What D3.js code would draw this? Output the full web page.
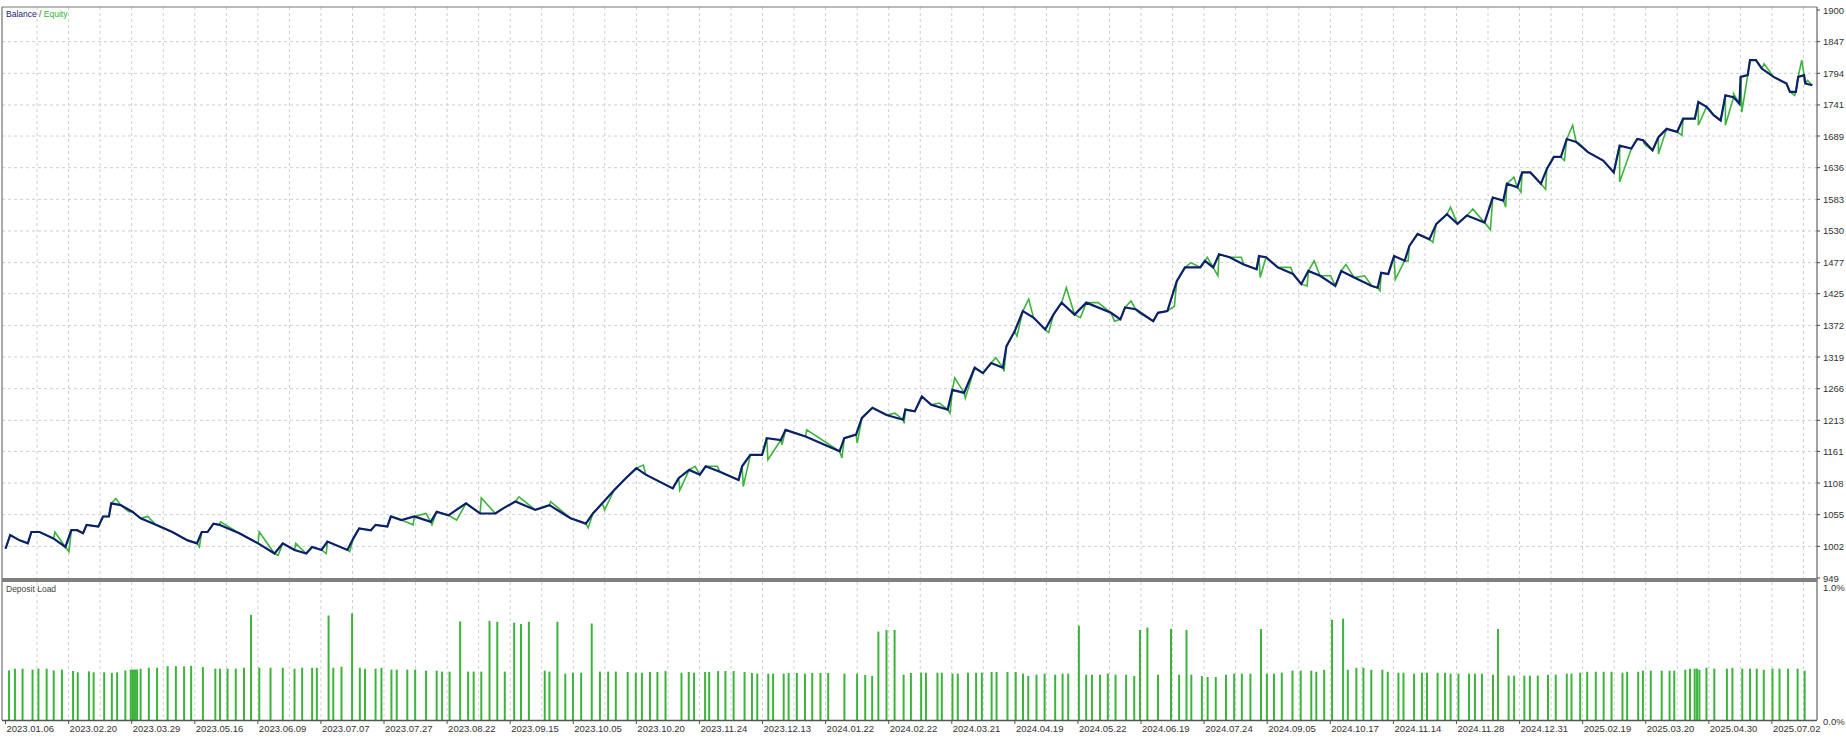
<!DOCTYPE html>
<html><head><meta charset="utf-8">
<script src="https://cdn.jsdelivr.net/npm/d3@7"></script>
<style>body{margin:0;background:#fff}svg{display:block}text{font-family:"Liberation Sans",Arial,sans-serif}</style>
</head><body><svg id="c" width="1846" height="738"></svg>
<script>
// x positions are deal-sequence index units
const yTicks=[1900,1847,1794,1741,1689,1636,1583,1530,1477,1425,1372,1319,1266,1213,1161,1108,1055,1002,949];
const dateLabels=["2023.01.06","2023.02.20","2023.03.29","2023.05.16","2023.06.09","2023.07.07","2023.07.27","2023.08.22","2023.09.15","2023.10.05","2023.10.20","2023.11.24","2023.12.13","2024.01.22","2024.02.22","2024.03.21","2024.04.19","2024.05.22","2024.06.19","2024.07.24","2024.09.05","2024.10.17","2024.11.14","2024.11.28","2024.12.31","2025.02.19","2025.03.20","2025.04.30","2025.07.02"];
const balance=[[3,998],[7,1021],[15,1012],[22,1007],[25,1026],[32,1026],[44,1015],[54,1001],[59,1029],[64,1029],[69,1024],[72,1038],[82,1035],[86,1052],[91,1052],[93,1074],[101,1071],[111,1060],[118,1049],[131,1038],[145,1026],[158,1012],[166,1007],[170,1026],[175,1026],[180,1040],[185,1038],[202,1024],[218,1007],[232,990],[239,1007],[249,996],[259,990],[264,1001],[272,996],[277,1010],[294,996],[299,1015],[304,1032],[314,1029],[318,1038],[328,1035],[331,1052],[340,1046],[351,1052],[365,1043],[370,1060],[380,1054],[395,1074],[407,1057],[420,1057],[427,1066],[437,1077],[454,1063],[466,1071],[484,1049],[497,1040],[503,1057],[511,1074],[521,1096],
[531,1116],[540,1133],[548,1122],[571,1099],[576,1116],[585,1130],[594,1122],[599,1136],[611,1127],[627,1113],[630,1136],[637,1155],[647,1155],[651,1183],[663,1180],[667,1197],[684,1186],[713,1161],[717,1183],[727,1189],[732,1217],[741,1234],[753,1222],[767,1214],[769,1231],[777,1228],[783,1253],[791,1239],[805,1231],[809,1264],[819,1259],[828,1301],[835,1292],[842,1309],[852,1301],[855,1337],[862,1362],[869,1396],[878,1385],[888,1365],[895,1390],[902,1410],[913,1390],[923,1410],[944,1393],[952,1382],[956,1402],[965,1399],[980,1379],[984,1393],[992,1396],[1000,1446],[1007,1469],[1020,1469],[1024,1480],[1031,1469],[1036,1491],[1045,1486],[1057,1474],[1068,1466],[1070,1488],[1076,1486],[1086,1469],[1099,1458],[1106,1441],[1112,1463],[1122,1455],[1135,1438],[1140,1463],[1151,1452],[1166,1438],[1171,1435],[1174,1460],[1180,1458],[1185,1488],[1194,1480],[1198,1505],[1205,1525],[1215,1516],[1221,1542],[1230,1558],[1239,1542],[1247,1556],[1262,1544],[1269,1586],[1278,1581],[1281,1609],[1290,1603],[1294,1628],[1301,1628],[1310,1609],[1315,1634],[1321,1654],[1327,1654],[1332,1684],[1340,1679],[1350,1662],[1363,1648],[1372,1628],[1377,1673],[1387,1668],[1392,1684],[1397,1682],[1405,1665],[1410,1687],[1417,1701],[1426,1696],[1431,1718],[1441,1718],[1444,1746],[1451,1738],[1457,1724],[1463,1715],[1467,1757],[1474,1754],[1479,1743],[1480,1788],[1486,1791],[1488,1816],[1493,1816],[1498,1802],[1508,1788],[1519,1777],[1522,1763],[1527,1763],[1529,1788],[1534,1791],[1535,1777],[1541,1774]];
const equitySpikes=[[45,1026],[57,993],[97,1082],[108,1060],[124,1052],[168,1001],[186,1043],[219,1026],[235,987],[250,1007],[276,990],[296,993],[350,1038],[361,1057],[366,1038],[387,1046],[408,1083],[440,1085],[467,1077],[499,1033],[513,1063],
[546,1138],[577,1096],[590,1136],[609,1136],[631,1102],[652,1147],[664,1172],[685,1197],[715,1150],[728,1175],[760,1225],[768,1208],[798,1242],[807,1225],[811,1284],[820,1250],[846,1318],[853,1295],[864,1354],[874,1416],[891,1360],[906,1435],[918,1385],[933,1410],[947,1379],[961,1413],[968,1393],[998,1404],[1012,1477],[1026,1486],[1035,1455],
[1055,1486],[1071,1452],[1097,1469],[1111,1438],[1117,1480],[1131,1455],[1144,1474],[1160,1455],[1173,1430],[1186,1449],[1197,1480],[1218,1511],[1233,1570],[1252,1567],[1267,1532],[1280,1570],[1287,1620],[1293,1595],[1314,1600],[1330,1648],[1337,1707],[1343,1676],[1377,1612],[1398,1676],[1410,1659],[1430,1690],[1444,1707],[1454,1732],[1467,1707],[1474,1760],[1481,1729],[1500,1810],[1526,1757],[1532,1816],[1537,1782]];
// deposit load: [deal index, load %]
const depositLoad=[[6,.37],[11,.383],[17.5,.383],[26,.376],[31,.383],[38,.383],[44,.37],[51,.376],[60.5,.366],[64.5,.356],[74,.363],[78,.356],[87,.356],[93.5,.351],[98,.356],[105,.37],[109.6,.376],[111,.376],[112.3,.376],[113.6,.376],[115,.376],[118,.383],[125,.39],[132,.39],[141,.402],[148,.402],[155,.4],[161,.405],[171,.395],[181.6,.383],[185.6,.383],[192,.383],[199,.383],[206,.39],[212,.785],[219,.39],[228.6,.39],[239,.39],[249,.383],[255.5,.39],[264,.39],[268,.39],[278,.78],[282,.39],[289,.398],[298,.795],[304.6,.39],[309,.383],[318,.383],[323,.39],[331.5,.376],[336,.376],[345,.376],[351.7,.376],[361,.368],[370,.368],[374.6,.361],[381,.361],[390,.736],[396.8,.361],[401.5,.361],[408,.361],[415,.74],[421.6,.733],[428,.361],[436,.726],[441.8,.716],[448.5,.733],[462,.368],[466,.361],[472.8,.733],[479.5,.346],[486,.353],[493,.353],[502,.72],[509,.361],[516,.361],[522.5,.361],
[532.6,.358],[539.5,.353],[544.7,.353],[551.6,.358],[557.9,.358],[564.8,.365],[578.4,.353],[584.6,.358],[589.1,.353],[598.5,.358],[602,.358],[609.6,.365],[615.8,.365],[622.8,.365],[632.1,.358],[638.4,.351],[642.9,.346],[652.3,.346],[656.4,.346],[665.4,.346],[669.6,.351],[676.6,.351],[683.5,.346],[689.7,.351],[696.7,.351],[703.3,.351],[717.1,.346],[727.9,.346],[734.8,.336],[740.7,.328],[746,.66],[752.9,.672],[759.8,.672],[767.5,.338],[773.7,.351],[782.4,.353],[786.5,.353],[796.3,.353],[800,.353],[809.1,.346],[813.6,.346],[822.3,.353],[829.2,.353],[834.1,.353],[842.4,.358],[846.6,.358],[855.9,.358],[862.9,.358],[869.1,.346],[873.6,.328],[880.6,.338],[887.5,.346],[896.5,.338],[902.8,.346],[907.6,.346],[916.7,.704],[922.9,.338],[927.8,.338],[934.7,.338],[941.3,.346],[947.9,.338],[956.9,.338],[963.8,.328],[968.7,.672],[975,.69],[984,.338],[995.1,.68],[1002,.338],[1008.3,.672],[1012.4,.338],[1021.4,.328],[1026.3,.321],[1033.2,.321],[1041.9,.338],[1048.9,.346],
[1055.4,.346],[1062.7,.346],[1071.7,.679],[1076.7,.346],[1082.8,.346],[1089.4,.353],[1098.5,.368],[1105.5,.368],[1114.5,.368],[1118.8,.36],[1125.5,.375],[1132.2,.748],[1141.6,.756],[1145.6,.375],[1152.9,.39],[1158.9,.39],[1165.6,.375],[1175,.375],[1179.6,.36],[1188.7,.353],[1193,.353],[1202,.346],[1208.7,.353],[1213,.353],[1222,.353],[1228.4,.353],[1233.1,.346],[1239.8,.346],[1248.8,.346],[1253.8,.346],[1259.8,.346],[1269.2,.338],[1273.5,.679],[1282.5,.331],[1287.2,.331],[1295.9,.331],[1300.6,.331],[1307.3,.331],[1316,.338],[1322.6,.338],[1332,.346],[1336,.346],[1343.4,.353],[1349.4,.36],[1356.7,.36],[1363.4,.36],[1370.1,.36],[1379.4,.353],[1383.4,.36],[1392.8,.36],[1396.8,.368],[1403.5,.368],[1412.8,.368],[1419.5,.368],[1423.5,.368],[1432.9,.375],[1436.9,.383],[1440.9,.383],[1442.9,.383],[1444.9,.375],[1450.9,.39],[1457.6,.383],[1468.3,.383],[1473,.39],[1481.4,.383],[1488,.383],[1493.7,.383],[1499.7,.375],[1507.1,.383],[1513.1,.383],[1520.4,.383],[1528.5,.383],[1534.5,.368]];

const svg=d3.select("#c");
const L=2,R=1817,T=7,B1=579,T2=582,B2=720;
const x=d3.scaleLinear().domain([0,1545]).range([L,R]);
const y=d3.scaleLinear().domain([949,1900]).range([578,10]);
const yd=d3.scaleLinear().domain([0,1]).range([B2,586]);
svg.append("rect").attr("width",1846).attr("height",738).attr("fill","#fff");
const grid="#cfcfcf";
const vg=d3.range(0,58).map(k=>3+k*26.85);
[[T,B1],[T2,B2]].forEach(([a,b])=>{
  svg.append("g").selectAll("line").data(vg.filter(v=>v>4)).join("line")
   .attr("x1",d=>x(d)).attr("x2",d=>x(d)).attr("y1",a).attr("y2",b)
   .attr("stroke",grid).attr("stroke-dasharray","3,3");
});
svg.append("g").selectAll("line").data(yTicks.slice(1,-1)).join("line")
 .attr("x1",L).attr("x2",R).attr("y1",d=>y(d)).attr("y2",d=>y(d))
 .attr("stroke",grid).attr("stroke-dasharray","3,3");
svg.append("g").selectAll("line").data(depositLoad).join("line")
 .attr("x1",d=>x(d[0])).attr("x2",d=>x(d[0])).attr("y1",B2).attr("y2",d=>yd(d[1]))
 .attr("stroke","#3cb43c").attr("stroke-width",2);
const eq=balance.concat(equitySpikes).sort((a,b)=>a[0]-b[0]);
const line=d3.line().x(d=>x(d[0])).y(d=>y(d[1]));
svg.append("path").attr("d",line(eq)).attr("fill","none").attr("stroke","#3db43d").attr("stroke-width",1.6);
svg.append("path").attr("d",line(balance)).attr("fill","none").attr("stroke","#0c1f6b").attr("stroke-width",2.2);
svg.append("line").attr("x1",L).attr("x2",R).attr("y1",T).attr("y2",T).attr("stroke","#777");
svg.append("line").attr("x1",L).attr("x2",L).attr("y1",T).attr("y2",B2).attr("stroke","#555");
svg.append("line").attr("x1",R).attr("x2",R).attr("y1",T).attr("y2",B2).attr("stroke","#444");
svg.append("rect").attr("x",L).attr("y",578).attr("width",R-L).attr("height",4).attr("fill","#808080");
svg.append("line").attr("x1",L).attr("x2",R).attr("y1",B2+0.5).attr("y2",B2+0.5).attr("stroke","#555").attr("stroke-width",1.5);
const fs=9.5;
svg.append("g").selectAll("text").data(yTicks).join("text")
 .attr("x",1823).attr("y",d=>y(d)+3.5).attr("font-size",fs).attr("fill","#333").text(d=>d);
svg.append("g").selectAll("line").data(yTicks).join("line")
 .attr("x1",R).attr("x2",R+3).attr("y1",d=>y(d)).attr("y2",d=>y(d)).attr("stroke","#444");
svg.append("text").attr("x",1823).attr("y",591).attr("font-size",fs).attr("fill","#333").text("1.0%");
svg.append("text").attr("x",1823).attr("y",725).attr("font-size",fs).attr("fill","#333").text("0.0%");
svg.append("g").selectAll("text").data(dateLabels).join("text")
 .attr("x",(d,i)=>x(3+i*53.7)+1).attr("y",732).attr("font-size",fs).attr("fill","#333").text(d=>d);
svg.append("g").selectAll("line").data(dateLabels).join("line")
 .attr("x1",(d,i)=>x(3+i*53.7)).attr("x2",(d,i)=>x(3+i*53.7)).attr("y1",B2).attr("y2",B2+4).attr("stroke","#555");
const t=svg.append("text").attr("x",6).attr("y",17).attr("font-size",8.5);
t.append("tspan").attr("fill","#1a1a7a").text("Balance");
t.append("tspan").attr("fill","#555").text(" / ");
t.append("tspan").attr("fill","#2eb82e").text("Equity");
svg.append("text").attr("x",6).attr("y",592).attr("font-size",8.5).attr("fill","#444").text("Deposit Load");
</script></body></html>
